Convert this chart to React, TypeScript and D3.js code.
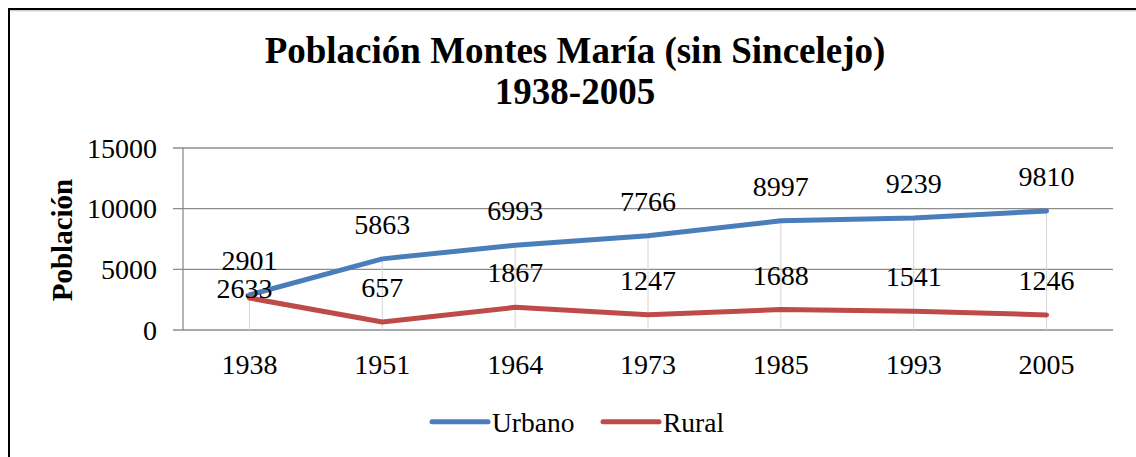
import { useEffect, useRef } from 'react';
import * as d3 from 'd3';

const years = ['1938', '1951', '1964', '1973', '1985', '1993', '2005'];
const urbano = [2901, 5863, 6993, 7766, 8997, 9239, 9810];
const rural = [2633, 657, 1867, 1247, 1688, 1541, 1246];
const yTicks = [0, 5000, 10000, 15000];

const W = 1136;
const H = 457;
const FONT = '"Liberation Serif", "Times New Roman", serif';
const BLUE = '#4A7EBB';
const RED = '#BE4B48';

export default function App() {
  const svgRef = useRef<SVGSVGElement>(null);

  useEffect(() => {
    if (!svgRef.current) return;
    const svg = d3.select(svgRef.current);
    svg.selectAll('*').remove();

    const margin = { top: 148, right: 23, bottom: 127, left: 183 };
    const width = W - margin.left - margin.right;
    const chartHeight = H - margin.top - margin.bottom;

    // outer frame (right and bottom run off the page)
    svg.append('rect')
      .attr('x', 9).attr('y', 9)
      .attr('width', W + 20).attr('height', H + 20)
      .attr('fill', 'white')
      .attr('stroke', 'black')
      .attr('stroke-width', 2);
    svg.append('line')
      .attr('x1', 10).attr('x2', W).attr('y1', 10.8).attr('y2', 10.8)
      .attr('stroke', '#bbb').attr('stroke-width', 1);

    const title = svg.append('text')
      .attr('text-anchor', 'middle')
      .attr('font-family', FONT)
      .attr('font-weight', 'bold')
      .attr('font-size', 37);
    title.append('tspan').attr('x', 575).attr('y', 62.5).text('Población Montes María (sin Sincelejo)');
    title.append('tspan').attr('x', 575).attr('y', 104).text('1938-2005');

    const g = svg.append('g').attr('transform', `translate(${margin.left},${margin.top})`);

    const x = d3.scalePoint<string>().domain(years).range([0, width]).padding(0.5);
    const y = d3.scaleLinear().domain([0, 15000]).range([chartHeight, 0]);

    // horizontal gridlines
    g.selectAll('.grid')
      .data(yTicks)
      .join('line')
      .attr('x1', -10)
      .attr('x2', width)
      .attr('y1', (d) => y(d))
      .attr('y2', (d) => y(d))
      .attr('stroke', '#8c8c8c')
      .attr('stroke-width', 1.3);

    // drop lines
    g.selectAll('.drop')
      .data(years)
      .join('line')
      .attr('x1', (d) => x(d)!)
      .attr('x2', (d) => x(d)!)
      .attr('y1', (_, i) => y(Math.max(urbano[i], rural[i])))
      .attr('y2', chartHeight)
      .attr('stroke', '#d4d4d4')
      .attr('stroke-width', 1);

    // y axis line
    g.append('line')
      .attr('x1', 0).attr('x2', 0)
      .attr('y1', 0).attr('y2', chartHeight)
      .attr('stroke', '#8c8c8c')
      .attr('stroke-width', 1.3);

    g.selectAll('.ylab')
      .data(yTicks)
      .join('text')
      .attr('x', -26)
      .attr('y', (d) => y(d) + 9.5)
      .attr('text-anchor', 'end')
      .attr('font-family', FONT)
      .attr('font-size', 28)
      .text((d) => String(d));

    g.selectAll('.xlab')
      .data(years)
      .join('text')
      .attr('x', (d) => x(d)!)
      .attr('y', chartHeight + 44)
      .attr('text-anchor', 'middle')
      .attr('font-family', FONT)
      .attr('font-size', 28)
      .text((d) => d);

    svg.append('text')
      .attr('transform', 'translate(72,240) rotate(-90)')
      .attr('text-anchor', 'middle')
      .attr('font-family', FONT)
      .attr('font-weight', 'bold')
      .attr('font-size', 29)
      .text('Población');

    const line = d3.line<number>()
      .x((_, i) => x(years[i])!)
      .y((d) => y(d));

    const series = [
      { name: 'Urbano', values: urbano, color: BLUE },
      { name: 'Rural', values: rural, color: RED },
    ];

    series.forEach((s) => {
      g.append('path')
        .datum(s.values)
        .attr('fill', 'none')
        .attr('stroke', s.color)
        .attr('stroke-width', 5)
        .attr('stroke-linecap', 'round')
        .attr('stroke-linejoin', 'round')
        .attr('d', line);
    });

    series.forEach((s, si) => {
      g.selectAll(`.lab${si}`)
        .data(s.values)
        .join('text')
        .attr('x', (_, i) => x(years[i])! - (si === 1 && Math.abs(urbano[i] - rural[i]) < 1500 ? 5 : 0))
        .attr('y', (d, i) => {
          // push the lower label down when it would collide with the upper one
          const collide = si === 1 && Math.abs(urbano[i] - rural[i]) < 1500;
          return y(d) - (collide ? 0 : 25);
        })
        .attr('text-anchor', 'middle')
        .attr('font-family', FONT)
        .attr('font-size', 28)
        .text((d) => String(d));
    });

    // legend
    const legend = [
      { name: 'Urbano', color: BLUE, x: 432 },
      { name: 'Rural', color: RED, x: 603 },
    ];
    legend.forEach((l) => {
      svg.append('line')
        .attr('x1', l.x).attr('x2', l.x + 56)
        .attr('y1', 421.7).attr('y2', 421.7)
        .attr('stroke', l.color)
        .attr('stroke-width', 5)
        .attr('stroke-linecap', 'round');
      svg.append('text')
        .attr('x', l.x + 60)
        .attr('y', 431.5)
        .attr('font-family', FONT)
        .attr('font-size', 27.5)
        .text(l.name);
    });
  }, []);

  return (
    <svg
      ref={svgRef}
      width={W}
      height={H}
      style={{ position: 'absolute', left: 0, top: 0, background: 'white' }}
    />
  );
}
